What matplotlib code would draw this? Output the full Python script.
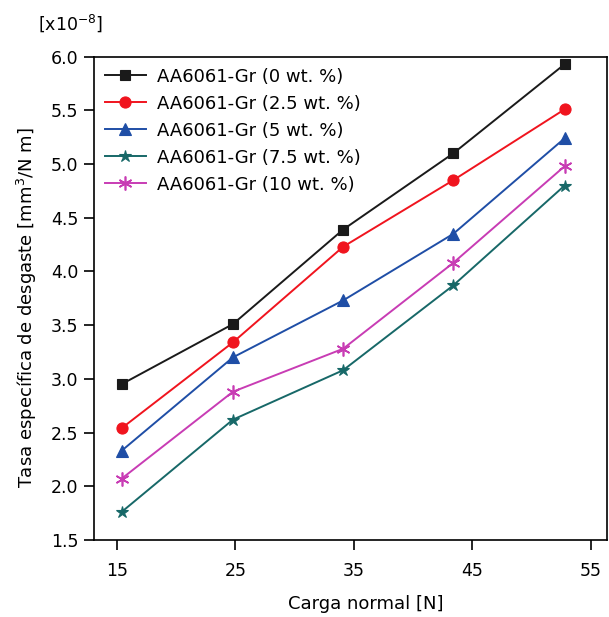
import matplotlib
matplotlib.use("Agg")
import matplotlib.pyplot as plt

plt.rcParams['font.family'] = ['DejaVu Sans']

load = [15.4, 24.8, 34.1, 43.4, 52.8]
wt0 = [2.95, 3.51, 4.39, 5.10, 5.93]
wt25 = [2.54, 3.34, 4.23, 4.85, 5.51]
wt5 = [2.33, 3.20, 3.73, 4.35, 5.24]
wt75 = [1.76, 2.62, 3.08, 3.87, 4.80]
wt10 = [2.07, 2.88, 3.28, 4.08, 4.98]

labels = ["AA6061-Gr (0 wt. %)", "AA6061-Gr (2.5 wt. %)", "AA6061-Gr (5 wt. %)",
          "AA6061-Gr (7.5 wt. %)", "AA6061-Gr (10 wt. %)"]
xticks = [15, 25, 35, 45, 55]
yticks = [1.5, 2.0, 2.5, 3.0, 3.5, 4.0, 4.5, 5.0, 5.5, 6.0]

fig = plt.figure(figsize=(6.09, 6.17), dpi=100)
ax = fig.add_axes([0.154, 0.125, 0.843, 0.783])

series = [wt0, wt25, wt5, wt75, wt10]
colors = ['#1a1a1a', '#f0141e', '#1f4ea6', '#176868', '#c83cb4']
markers = ['s', 'o', '^', '*', (6, 2, 0)]
msizes = [7, 8, 8, 9, 10]
for s, c, m, ms, lab in zip(series, colors, markers, msizes, labels):
    ax.plot(load, s, color=c, marker=m, markersize=ms, linewidth=1.4, label=lab,
            markeredgewidth=1.2 if m == (6, 2, 0) else 0.8)

ax.set_xlim(13.05, 56.4)
ax.set_ylim(1.5, 6.0)
ax.set_xticks(xticks)
ax.set_yticks(yticks)
ax.set_yticklabels([f"{v:.1f}" for v in yticks])
ax.tick_params(axis='both', direction='out', length=7, width=1.2, labelsize=12.5)
ax.tick_params(axis='x', pad=9)
ax.tick_params(axis='y', pad=4)
for sp in ax.spines.values():
    sp.set_linewidth(1.2)

ax.set_xlabel("Carga normal [N]", fontsize=13, labelpad=12)
ax.xaxis.set_label_coords(0.53, -0.115)
ax.set_ylabel("Tasa específica de desgaste [mm$^3$/N m]", fontsize=13)
ax.yaxis.set_label_coords(-0.107, 0.48)
fig.text(0.062, 0.963, "[x10$^{-8}$]", fontsize=12.5, ha='left', va='center')

ax.legend(loc='upper left', frameon=False, fontsize=13, handlelength=2.3,
          borderaxespad=0.3, labelspacing=0.5, handletextpad=0.6, borderpad=0.3)

fig.savefig("out.png", dpi=100)
